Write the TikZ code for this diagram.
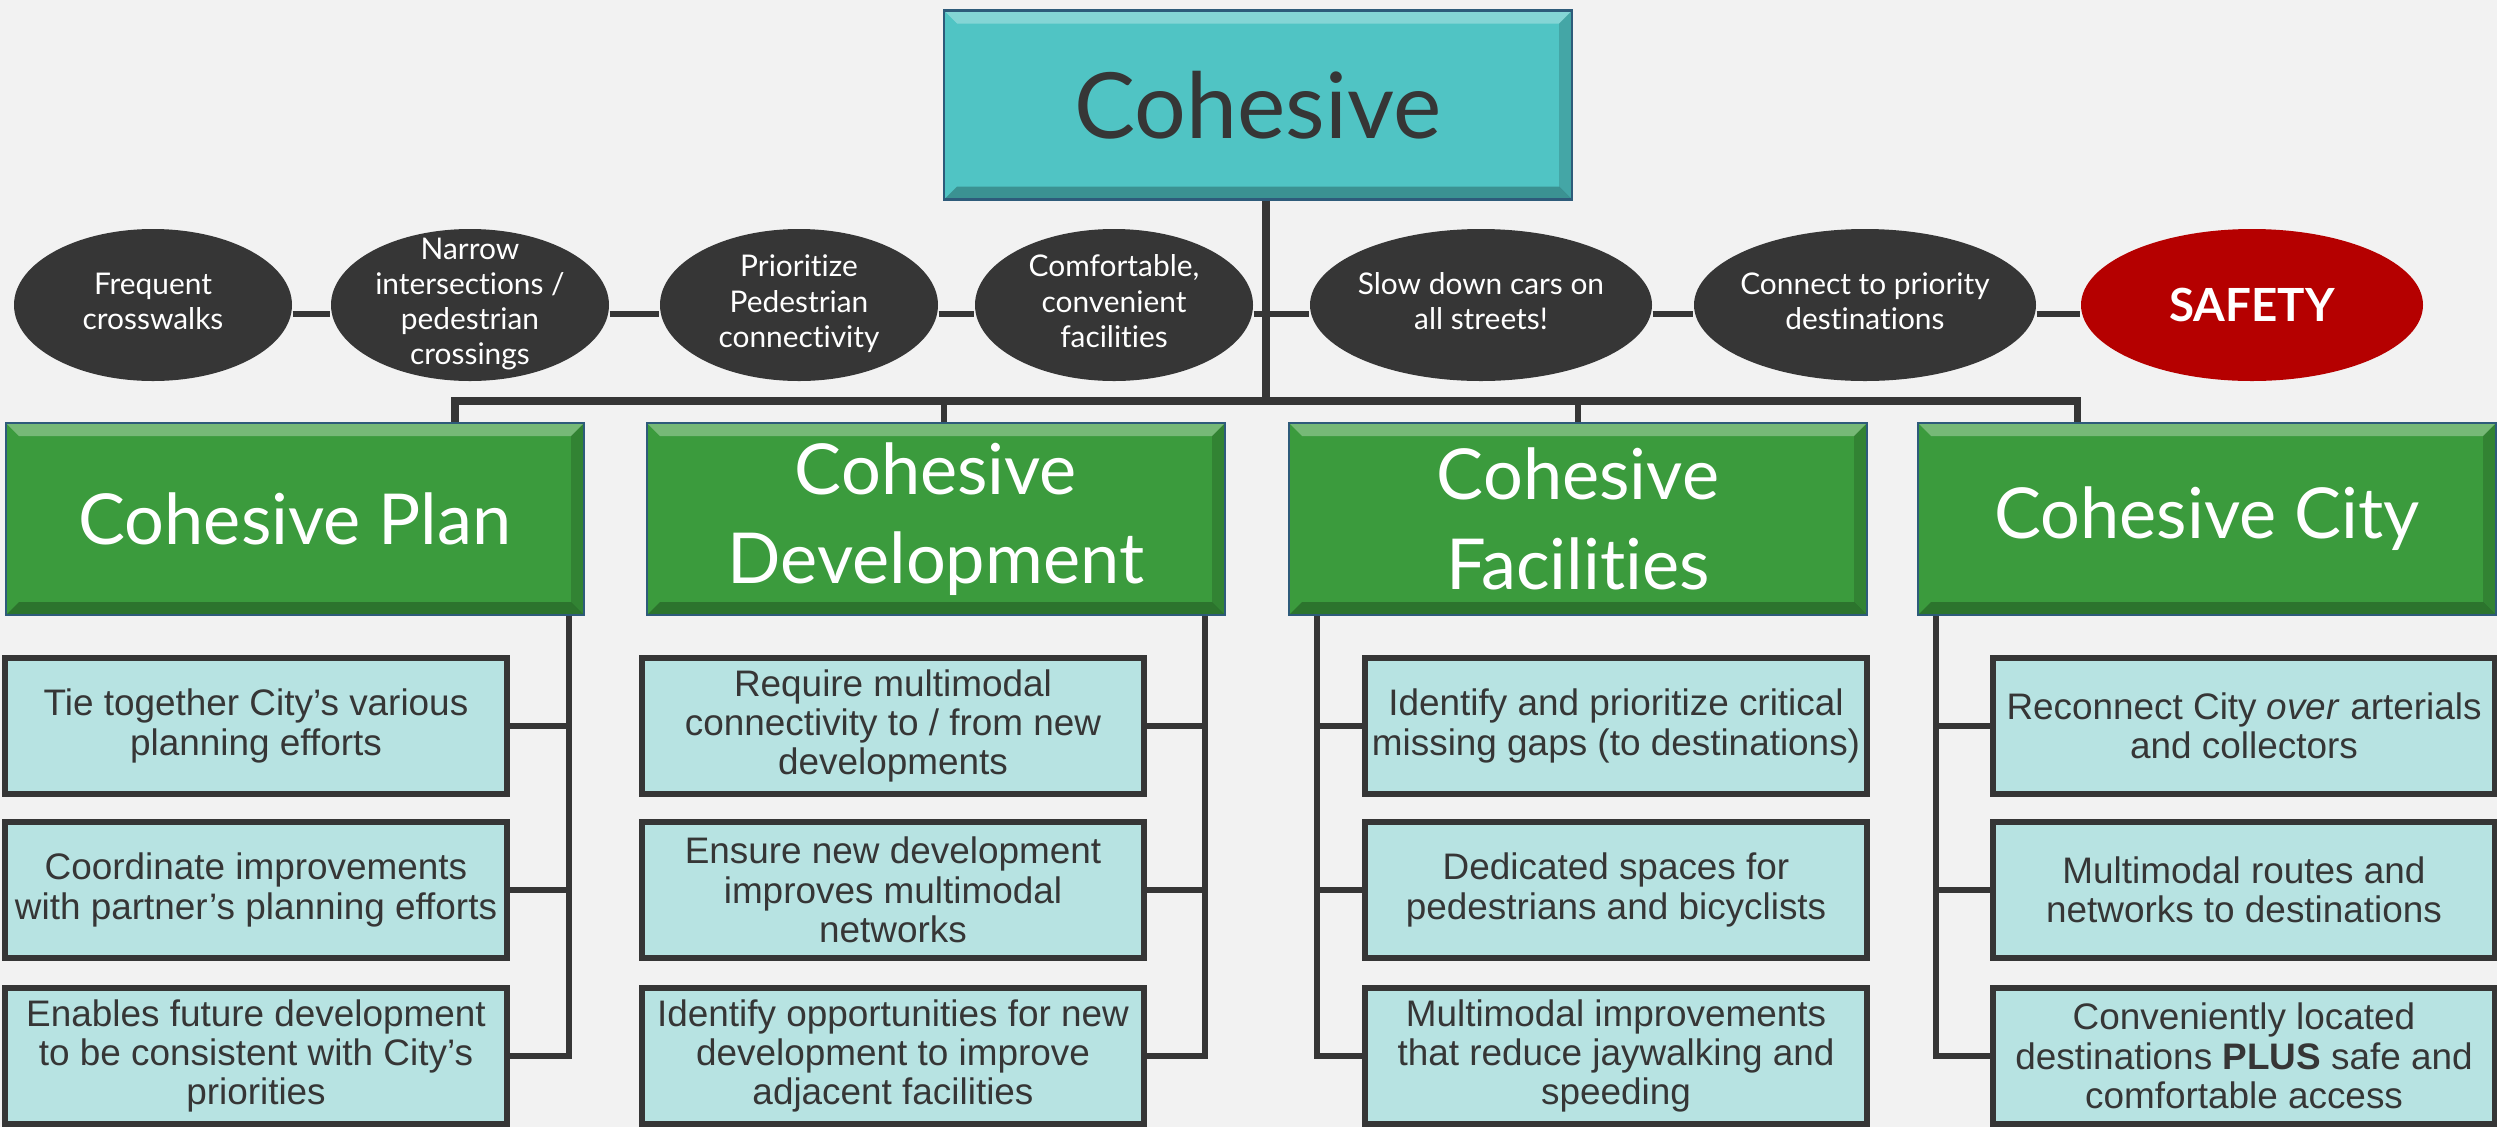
\documentclass[tikz,border=0pt]{standalone}
\usepackage{fontspec}
\setmainfont{Liberation Sans}
\newfontfamily\gillfont[Ligatures=NoCommon]{Lato}
\usepackage{tikz}
\usetikzlibrary{shapes,calc}
\definecolor{bggray}{HTML}{F2F2F2}
\definecolor{tealbox}{HTML}{50C4C4}
\definecolor{edgeblue}{HTML}{2E5B7A}
\definecolor{boxgreen}{HTML}{3B9B3D}
\definecolor{paleblue}{HTML}{B7E3E2}
\definecolor{inkgray}{HTML}{363636}
\definecolor{safered}{HTML}{B50000}
\newcommand{\ovaltext}[1]{\makebox[0pt]{\vbox to 0pt{\vss\hbox{\begin{tabular}{@{}c@{}}#1\end{tabular}}\vss}}}

\begin{document}
\begin{tikzpicture}[x=0.1mm,y=-0.1mm]

                \tikzstyle{link}   = [draw=inkgray, line width=1.7pt]
                \tikzstyle{bus}    = [draw=inkgray, line width=2pt, line join=miter]
                \tikzstyle{bevel}  = [path picture={
                        \fill[white, opacity=.3] (path picture bounding box.north west) -- (path picture bounding box.north east)
                                -- ++(-1.3mm,-1.3mm) -- ([shift={(1.3mm,-1.3mm)}]path picture bounding box.north west) -- cycle;
                        \fill[black, opacity=.25] (path picture bounding box.south west) -- (path picture bounding box.south east)
                                -- ++(-1.3mm,1.3mm) -- ([shift={(1.3mm,1.3mm)}]path picture bounding box.south west) -- cycle;
                        \fill[black, opacity=.15] (path picture bounding box.north east) -- (path picture bounding box.south east)
                                -- ++(-1.3mm,1.3mm) -- ([shift={(-1.3mm,-1.3mm)}]path picture bounding box.north east) -- cycle;
                }]
                \tikzstyle{topbox} = [rectangle, fill=tealbox, draw=edgeblue, line width=0.6pt, bevel, minimum width=62.8mm, minimum height=18.9mm, text=inkgray, font=\gillfont\fontsize{26}{30}\selectfont]
                \tikzstyle{head}   = [rectangle, fill=boxgreen, draw=edgeblue, line width=0.6pt, bevel, minimum width=57.8mm, minimum height=19.2mm, text=white, align=center, font=\gillfont\fontsize{20}{25.5}\selectfont]
                \tikzstyle{goal}   = [ellipse, fill=inkgray, inner sep=0pt, minimum height=15.2mm, text=white, font=\gillfont\fontsize{8.5}{10}\selectfont]
                \tikzstyle{item}   = [rectangle, fill=paleblue, draw=inkgray, line width=1.7pt, minimum width=50.2mm, minimum height=13.6mm, inner sep=1pt, align=center, text=inkgray, font=\fontsize{10.5}{11.2}\selectfont]

                \useasboundingbox (0,0) rectangle (2497,1127);
                \fill [bggray] (0,0) rectangle (2497,1127);

                \node [topbox](top) at (1258, 105) {Cohesive};

                \foreach \n/\x/\txt in {1/153/{Frequent\\crosswalks}, 2/470/{Narrow\\intersections /\\pedestrian\\crossings},
                        3/799/{Prioritize\\Pedestrian\\connectivity}, 4/1114/{Comfortable,\\convenient\\facilities},
                        5/1481/{Slow down cars on\\all streets!}, 6/1865/{Connect to priority\\destinations}}
                {
                        \ifnum \n<5
                                \node [goal, minimum width=27.8mm](e\n) at (\x, 305) {\ovaltext{\txt}};
                        \else
                                \node [goal, minimum width=34.2mm](e\n) at (\x, 305) {\ovaltext{\txt}};
                        \fi
                }
                \node [goal, fill=safered, minimum width=34.2mm, font=\gillfont\bfseries\fontsize{13}{15}\selectfont](e7) at (2252, 305) {SAFETY};

                \foreach \a/\b in {1/2, 2/3, 3/4, 4/5, 5/6, 6/7}
                        \draw [link] ([yshift=-0.9mm]e\a.east) -- ([yshift=-0.9mm]e\b.west);

                \node [head](plan) at (295, 519) {Cohesive Plan};
                \node [head](dev) at (936, 519) {Cohesive\\Development};
                \node [head](fac) at (1578, 519) {Cohesive\\Facilities};
                \node [head](city) at (2207, 519) {Cohesive City};

                \node [item](plan1) at (256, 726) {Tie together City’s various\\planning efforts};
                \node [item](plan2) at (256, 890) {Coordinate improvements\\with partner’s planning efforts};
                \node [item](plan3) at (256, 1056) {Enables future development\\to be consistent with City’s\\priorities};

                \node [item](dev1) at (893, 726) {Require multimodal\\connectivity to / from new\\developments};
                \node [item](dev2) at (893, 890) {Ensure new development\\improves multimodal\\networks};
                \node [item](dev3) at (893, 1056) {Identify opportunities for new\\development to improve\\adjacent facilities};

                \node [item](fac1) at (1616, 726) {Identify and prioritize critical\\missing gaps (to destinations)};
                \node [item](fac2) at (1616, 890) {Dedicated spaces for\\pedestrians and bicyclists};
                \node [item](fac3) at (1616, 1056) {Multimodal improvements\\that reduce jaywalking and\\speeding};

                \node [item](city1) at (2244, 726) {Reconnect City \textit{over} arterials\\and collectors};
                \node [item](city2) at (2244, 890) {Multimodal routes and\\networks to destinations};
                \node [item](city3) at (2244, 1056) {Conveniently located\\destinations \textbf{PLUS} safe and\\comfortable access};

                \foreach \d/\g in {455/plan, 944/dev, 1578/fac, 2077/city}
                {
                        \coordinate (d\g) at (\d, 401);
                }
                \coordinate (hub) at (1266, 401);
                \draw [bus] (hub |- top.south) -- (hub);
                \draw [bus] (dplan |- plan.north) -- (dplan) -- (dcity) -- (dcity |- city.north);
                \draw [link] (ddev) -- (ddev |- dev.north);
                \draw [link] (dfac) -- (dfac |- fac.north);

                \foreach \g/\s/\a in {plan/569/east, dev/1205/east, fac/1317/west, city/1936/west}
                {
                        \coordinate (s\g) at (\s, 0);
                        \draw [link] (s\g |- \g.south) -- (s\g |- \g3.\a) -- (\g3.\a);
                        \draw [link] (s\g |- \g1.\a) -- (\g1.\a);
                        \draw [link] (s\g |- \g2.\a) -- (\g2.\a);
                }

\end{tikzpicture}
\end{document}
